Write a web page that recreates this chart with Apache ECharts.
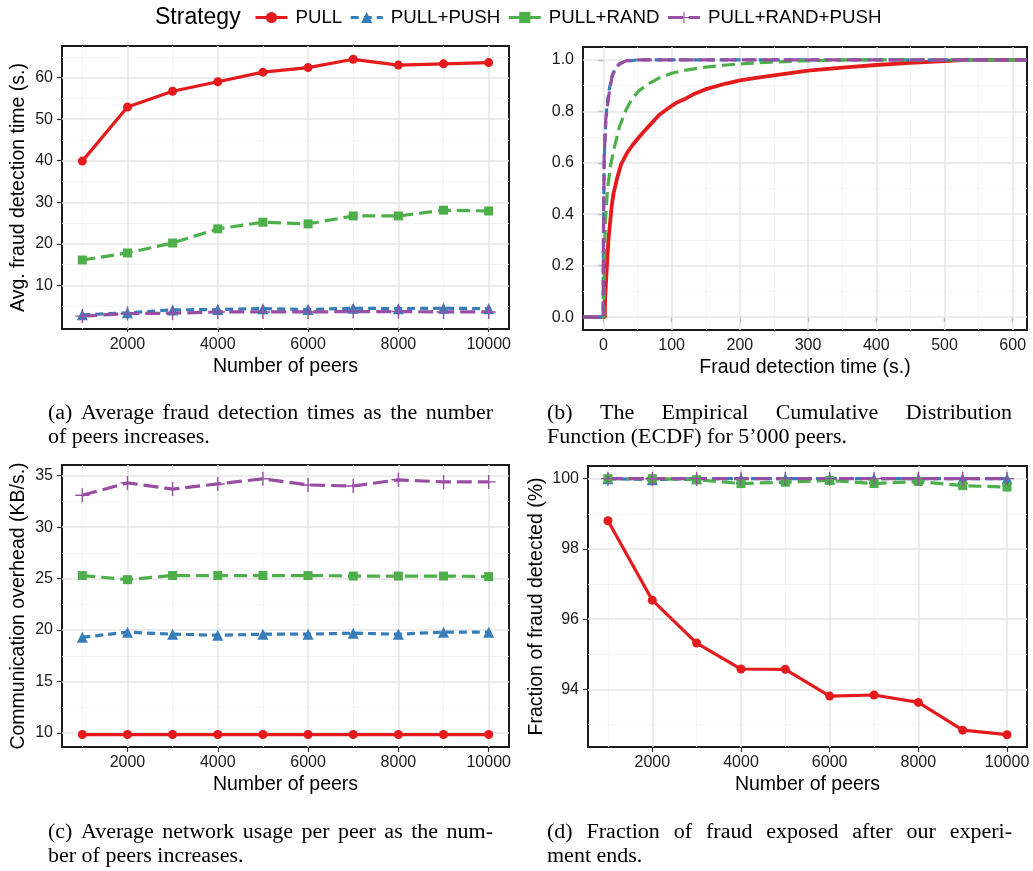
<!DOCTYPE html>
<html>
<head>
<meta charset="utf-8">
<title>Fraud detection strategies</title>
<script src="https://cdn.jsdelivr.net/npm/echarts@6/dist/echarts.min.js"></script>
<style>
html, body { margin: 0; padding: 0; background: #fff; }
#main { width: 1033px; height: 871px; }
</style>
</head>
<body>
<div id="main"></div>
<script>
var strategies = ['PULL', 'PULL+PUSH', 'PULL+RAND', 'PULL+RAND+PUSH'];
var peers = [1000, 2000, 3000, 4000, 5000, 6000, 7000, 8000, 9000, 10000];

// (a) avg fraud detection time (s.)
var timePull     = [39.9, 52.9, 56.7, 59.0, 61.3, 62.4, 64.4, 63.0, 63.3, 63.6];
var timePush     = [2.9, 3.4, 4.1, 4.2, 4.4, 4.2, 4.5, 4.4, 4.5, 4.4];
var timeRand     = [16.1, 17.8, 20.2, 23.6, 25.2, 24.8, 26.7, 26.7, 28.1, 27.9];
var timeRandPush = [2.6, 3.2, 3.3, 3.6, 3.6, 3.6, 3.7, 3.7, 3.6, 3.6];

// (b) ECDF for 5'000 peers, [time, fraction]
var ecdfPull = [[-30, 0], [2, 0], [2.4, 0.07], [4.4, 0.17], [7.3, 0.3], [12, 0.43], [14.7, 0.48], [20, 0.54],
  [26, 0.595], [35, 0.64], [43, 0.67], [57, 0.715], [72, 0.758], [82, 0.787], [96, 0.814], [106, 0.832],
  [121, 0.85], [131, 0.865], [150, 0.886], [180, 0.908], [200, 0.92], [229, 0.932], [250, 0.94], [300, 0.958],
  [350, 0.97], [400, 0.98], [450, 0.988], [500, 0.995], [530, 1], [621, 1]];
var ecdfPush = [[-30, 0], [-0.5, 0], [0, 0.3], [1, 0.6], [2.5, 0.72], [5, 0.82], [8, 0.88], [13, 0.94],
  [18, 0.97], [24, 0.985], [33, 0.995], [50, 1], [621, 1]];
var ecdfRand = [[-30, 0], [0.5, 0], [1, 0.15], [2, 0.3], [3.5, 0.4], [6, 0.5], [10.5, 0.59], [15, 0.65],
  [23.5, 0.74], [33, 0.805], [42, 0.85], [52, 0.88], [65, 0.905], [82, 0.93], [100, 0.948], [121, 0.96],
  [150, 0.972], [180, 0.98], [229, 0.989], [290, 0.996], [360, 1], [621, 1]];
var ecdfRandPush = [[-30, 0], [-0.5, 0], [0, 0.32], [1, 0.62], [3.4, 0.77], [8.3, 0.87], [13, 0.94],
  [18, 0.965], [23.5, 0.985], [33, 0.996], [48, 1], [621, 1]];

// (c) communication overhead (KB/s.)
var netPull     = [9.85, 9.85, 9.85, 9.85, 9.85, 9.85, 9.85, 9.85, 9.85, 9.85];
var netPush     = [19.3, 19.8, 19.6, 19.5, 19.6, 19.6, 19.7, 19.6, 19.8, 19.8];
var netRand     = [25.3, 24.9, 25.3, 25.3, 25.3, 25.3, 25.25, 25.25, 25.25, 25.2];
var netRandPush = [33.1, 34.3, 33.7, 34.2, 34.7, 34.1, 34.0, 34.6, 34.4, 34.4];

// (d) fraction of fraud detected (%)
var fracPull     = [98.8, 96.54, 95.32, 94.58, 94.57, 93.81, 93.84, 93.63, 92.84, 92.71];
var fracPush     = [100, 99.97, 100, 100, 100, 100, 100, 100, 100, 100];
var fracRand     = [100, 100, 99.97, 99.86, 99.9, 99.95, 99.86, 99.92, 99.8, 99.76];
var fracRandPush = [100, 100, 100, 100, 100, 100, 100, 100, 100, 100];

// tick values
var peerTicks = [2000, 4000, 6000, 8000, 10000];
var peerMinor = [1000, 3000, 5000, 7000, 9000];
var timeTicks = [10, 20, 30, 40, 50, 60];
var timeMinor = [5, 15, 25, 35, 45, 55, 65];
var ecdfXTicks = [0, 100, 200, 300, 400, 500, 600];
var ecdfXMinor = [50, 150, 250, 350, 450, 550];
var ecdfYTicks = [0, 0.2, 0.4, 0.6, 0.8, 1.0];
var ecdfYMinor = [0.1, 0.3, 0.5, 0.7, 0.9];
var netTicks = [10, 15, 20, 25, 30, 35];
var netMinor = [12.5, 17.5, 22.5, 27.5, 32.5];
var fracTicks = [94, 96, 98, 100];
var fracMinor = [93, 95, 97, 99];

var captions = [
  ['(a) Average fraud detection times as the number', 'of peers increases.'],
  ['(b) The Empirical Cumulative Distribution', 'Function (ECDF) for 5\u2019000 peers.'],
  ['(c) Average network usage per peer as the num-', 'ber of peers increases.'],
  ['(d) Fraction of fraud exposed after our experi-', 'ment ends.']
];

var sans = '"Liberation Sans", Arial, Helvetica, sans-serif';
var serif = '"Liberation Serif", "Times New Roman", serif';
var plus = 'path://M-1,-10 H1 V-1 H10 V1 H1 V10 H-1 V1 H-10 V-1 H-1 Z';

var looks = {
  'PULL':           {color: '#E41A1C', symbol: 'circle',   size: 9,  dash: 'solid'},
  'PULL+PUSH':      {color: '#377EB8', symbol: 'triangle', size: 11, dash: [8, 5]},
  'PULL+RAND':      {color: '#4DAF4A', symbol: 'rect',     size: 9,  dash: [13, 6]},
  'PULL+RAND+PUSH': {color: '#984EA3', symbol: plus,       size: 14, dash: [15, 6]}
};

var grids = [
  {left: 62,  top: 46,  width: 447, height: 283},
  {left: 583, top: 47,  width: 444, height: 283},
  {left: 62,  top: 465, width: 447, height: 282},
  {left: 588, top: 466, width: 439, height: 281}
];
grids.forEach(function (g) {
  g.show = true; g.borderColor = '#1a1a1a'; g.borderWidth = 2; g.backgroundColor = '#fff';
});

function plain(v) { return String(v); }

function axis(idx, min, max, ticks, name, gap, margin, fmt) {
  return {
    type: 'value', gridIndex: idx, min: min, max: max,
    name: name, nameLocation: 'middle', nameGap: gap,
    nameTextStyle: {fontSize: 19.5, color: '#000', fontFamily: sans},
    axisLine: {show: false},
    splitLine: {show: false},
    axisTick: {show: true, customValues: ticks, length: 5, lineStyle: {color: '#333', width: 1.2}},
    axisLabel: {customValues: ticks, margin: margin, fontSize: 16, color: '#1a1a1a', fontFamily: sans,
      formatter: fmt || plain}
  };
}

var xAxes = [
  axis(0, 550, 10450, peerTicks, 'Number of peers', 28, 8),
  axis(1, -30, 621, ecdfXTicks, 'Fraud detection time (s.)', 28, 8),
  axis(2, 550, 10450, peerTicks, 'Number of peers', 28, 8),
  axis(3, 550, 10450, peerTicks, 'Number of peers', 28, 8)
];
var yAxes = [
  axis(0, -0.5, 67.6, timeTicks, 'Avg. fraud detection time (s.)', 33, 9),
  axis(1, -0.05, 1.05, ecdfYTicks, '', 30, 9, function (v) { return v.toFixed(1); }),
  axis(2, 8.64, 36.04, netTicks, 'Communication overhead (KB/s.)', 33, 9),
  axis(3, 92.36, 100.36, fracTicks, 'Fraction of fraud detected (%)', 41, 9)
];

var majorLine = {color: '#e6e6e6', width: 1.5, type: 'solid'};
var minorLine = {color: '#f2f2f2', width: 0.8, type: 'solid'};

function gridLines(idx, xMajor, xMinor, yMajor, yMinor) {
  var d = [];
  xMinor.forEach(function (v) { d.push({xAxis: v, lineStyle: minorLine}); });
  yMinor.forEach(function (v) { d.push({yAxis: v, lineStyle: minorLine}); });
  xMajor.forEach(function (v) { d.push({xAxis: v, lineStyle: majorLine}); });
  yMajor.forEach(function (v) { d.push({yAxis: v, lineStyle: majorLine}); });
  return {
    type: 'line', name: 'grid' + idx, xAxisIndex: idx, yAxisIndex: idx, data: [],
    silent: true, z: 1, animation: false,
    markLine: {silent: true, z: 1, symbol: ['none', 'none'], label: {show: false}, animation: false, data: d}
  };
}

function pairs(xs, ys) {
  return xs.map(function (x, i) { return [x, ys[i]]; });
}

function lineSeries(name, idx, data, marks, width) {
  var s = looks[name];
  return {
    name: name, type: 'line', xAxisIndex: idx, yAxisIndex: idx, data: data,
    symbol: marks ? s.symbol : 'none', symbolSize: s.size, showSymbol: marks,
    itemStyle: {color: s.color, borderWidth: 0},
    lineStyle: {color: s.color, width: width || 3.2, type: s.dash},
    z: 3, animation: false
  };
}

var series = [
  gridLines(0, peerTicks, peerMinor, timeTicks, timeMinor),
  gridLines(1, ecdfXTicks, ecdfXMinor, ecdfYTicks, ecdfYMinor),
  gridLines(2, peerTicks, peerMinor, netTicks, netMinor),
  gridLines(3, peerTicks, peerMinor, fracTicks, fracMinor)
];
var panelA = [timePull, timePush, timeRand, timeRandPush];
var panelB = [ecdfPull, ecdfPush, ecdfRand, ecdfRandPush];
var panelC = [netPull, netPush, netRand, netRandPush];
var panelD = [fracPull, fracPush, fracRand, fracRandPush];
strategies.forEach(function (n, i) { series.push(lineSeries(n, 0, pairs(peers, panelA[i]), true)); });
strategies.forEach(function (n, i) { series.push(lineSeries(n, 1, panelB[i], false, i === 0 ? 3.8 : 3.2)); });
strategies.forEach(function (n, i) { series.push(lineSeries(n, 2, pairs(peers, panelC[i]), true)); });
strategies.forEach(function (n, i) { series.push(lineSeries(n, 3, pairs(peers, panelD[i]), true)); });

// captions: first line justified, second left aligned
var capFont = 20, capScale = 1.1;
var ctx = document.createElement('canvas').getContext('2d');
ctx.font = capFont + 'px ' + serif;
var capBoxes = [
  {x0: 48, x1: 493, y: 414},
  {x0: 547, x1: 1012, y: 414},
  {x0: 48, x1: 493, y: 833},
  {x0: 547, x1: 1012, y: 833}
];
var graphics = [];
function capText(text, x, y) {
  graphics.push({
    type: 'text', x: x, y: y, scaleX: capScale, silent: true,
    style: {text: text, fontSize: capFont, fontFamily: serif, fill: '#000', verticalAlign: 'middle'}
  });
}
captions.forEach(function (lines, i) {
  var box = capBoxes[i];
  var words = lines[0].split(' ');
  var widths = words.map(function (w) { return ctx.measureText(w).width * capScale; });
  var total = widths.reduce(function (a, b) { return a + b; }, 0);
  var gap = (box.x1 - box.x0 - total) / (words.length - 1);
  var x = box.x0;
  words.forEach(function (w, k) { capText(w, x, box.y); x += widths[k] + gap; });
  capText(lines[1], box.x0, box.y + 24);
});

var chart = echarts.init(document.getElementById('main'), null, {renderer: 'canvas'});
chart.setOption({
  animation: false,
  backgroundColor: '#fff',
  title: {text: 'Strategy', left: 155, top: 6, padding: 0,
    textStyle: {fontSize: 23, fontWeight: 'normal', color: '#000', fontFamily: sans}},
  legend: {
    data: strategies, left: 254, top: 8, padding: 0, itemWidth: 32, itemHeight: 14, itemGap: 7,
    lineStyle: {width: 3},
    textStyle: {fontSize: 18.7, color: '#000', fontFamily: sans, padding: [0, 0, 0, 3]}
  },
  grid: grids,
  xAxis: xAxes,
  yAxis: yAxes,
  series: series,
  graphic: graphics
});
</script>
</body>
</html>
